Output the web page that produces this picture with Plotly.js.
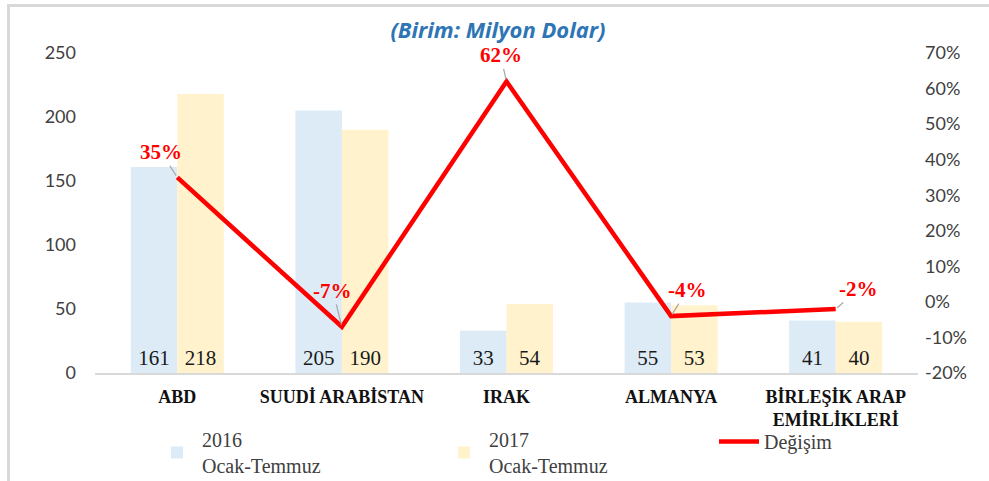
<!DOCTYPE html>
<html>
<head>
<meta charset="utf-8">
<script src="https://cdn.plot.ly/plotly-3.0.1.min.js"></script>
<style>
  html, body { margin: 0; padding: 0; background: #fff; }
  #wrap { position: relative; width: 989px; height: 481px; }
  #chart { width: 989px; height: 481px; }
  #frame { position: absolute; left: 7px; top: 4px; right: 0; bottom: 0;
           border-left: 3px solid #d9d9d9; border-top: 3px solid #d9d9d9; pointer-events: none; }
</style>
</head>
<body>
<div id="wrap">
  <div id="chart"></div>
  <div id="frame"></div>
</div>
<script>
const categories = ["ABD", "SUUDİ ARABİSTAN", "IRAK", "ALMANYA", "BİRLEŞİK ARAP<br>EMİRLİKLERİ"];
const values2016 = [161, 205, 33, 55, 41];
const values2017 = [218, 190, 54, 53, 40];
const change = [35, -7, 62, -4, -2];
const changeLabels = ["35%", "-7%", "62%", "-4%", "-2%"];
const seriesNames = ["2016<br>Ocak-Temmuz", "2017<br>Ocak-Temmuz", "Değişim"];
const yLeftTicks = [0, 50, 100, 150, 200, 250];
const yRightTicks = [-20, -10, 0, 10, 20, 30, 40, 50, 60, 70];

const labelOffsets = [[-16, -25], [-9, -36], [-6, -26], [16, -26], [23, -20]];

const serif = "Liberation Serif, DejaVu Serif, serif";
const sans = "Lato, Open Sans, sans-serif";

const traces = [
  {
    type: "bar", name: seriesNames[0], x: categories, y: values2016,
    marker: { color: "#DDEBF7" },
    text: values2016.map(String), textposition: "inside", insidetextanchor: "start",
    textfont: { family: serif, size: 21, color: "#1a1a1a" },
    hoverinfo: "skip", cliponaxis: false, legend: "legend"
  },
  {
    type: "bar", name: seriesNames[1], x: categories, y: values2017,
    marker: { color: "#FFF2CC" },
    text: values2017.map(String), textposition: "inside", insidetextanchor: "start",
    textfont: { family: serif, size: 21, color: "#1a1a1a" },
    hoverinfo: "skip", cliponaxis: false, legend: "legend"
  },
  {
    type: "scatter", mode: "lines", name: seriesNames[2], x: categories, y: change,
    yaxis: "y2", line: { color: "#FF0000", width: 4.5 }, hoverinfo: "skip",
    legend: "legend2"
  }
];

const annotations = categories.map((c, i) => ({
  x: c, y: change[i], xref: "x", yref: "y2",
  text: "<b>" + changeLabels[i] + "</b>",
  font: { family: serif, size: 21, color: "#FF0000" },
  showarrow: true, arrowhead: 0, arrowwidth: 1.2, arrowcolor: "#a6a6a6",
  ax: labelOffsets[i][0], ay: labelOffsets[i][1], standoff: 2, startstandoff: 0
}));

const layout = {
  width: 989, height: 481,
  margin: { l: 95, r: 71, t: 53, b: 108 },
  paper_bgcolor: "rgba(0,0,0,0)", plot_bgcolor: "rgba(0,0,0,0)",
  title: {
    text: "<b><i>(Birim: Milyon Dolar)</i></b>",
    font: { family: "Open Sans, sans-serif", size: 22, color: "#2E75B6" },
    x: 0.5035, xref: "container", xanchor: "center",
    y: 1 - 30 / 481, yref: "container", yanchor: "middle"
  },
  barmode: "group", bargap: 0.435, bargroupgap: 0,
  xaxis: {
    type: "category", showgrid: false, zeroline: false,
    showline: true, linecolor: "#d9d9d9", linewidth: 2,
    ticks: "", tickfont: { family: serif, size: 18, color: "#111", weight: "bold" },
    ticklabelstandoff: 6
  },
  yaxis: {
    range: [0, 250], tickvals: yLeftTicks, showgrid: false, zeroline: false,
    showline: false, ticks: "",
    tickfont: { family: sans, size: 18, color: "#404040" },
    ticklabelstandoff: 18
  },
  yaxis2: {
    overlaying: "y", side: "right", range: [-20, 70], tickvals: yRightTicks,
    ticktext: yRightTicks.map(v => v + "%"),
    showgrid: false, zeroline: false, showline: false, ticks: "",
    tickfont: { family: sans, size: 18, color: "#404040" },
    ticklabelstandoff: 6
  },
  showlegend: true,
  legend: {
    orientation: "h", xref: "container", x: 152 / 989, xanchor: "left",
    yref: "container", y: 1 - 420 / 481, yanchor: "top",
    entrywidth: 232, entrywidthmode: "pixels",
    font: { family: serif, size: 20, color: "#404040" },
    itemwidth: 40, traceorder: "normal", bgcolor: "rgba(0,0,0,0)"
  },
  legend2: {
    orientation: "h", xref: "container", x: 714 / 989, xanchor: "left",
    yref: "container", y: 1 - 422 / 481, yanchor: "top",
    font: { family: serif, size: 20, color: "#404040" },
    itemwidth: 40, bgcolor: "rgba(0,0,0,0)"
  },
  annotations: annotations
};

Plotly.newPlot("chart", traces, layout, { displayModeBar: false, staticPlot: true });
</script>
</body>
</html>
